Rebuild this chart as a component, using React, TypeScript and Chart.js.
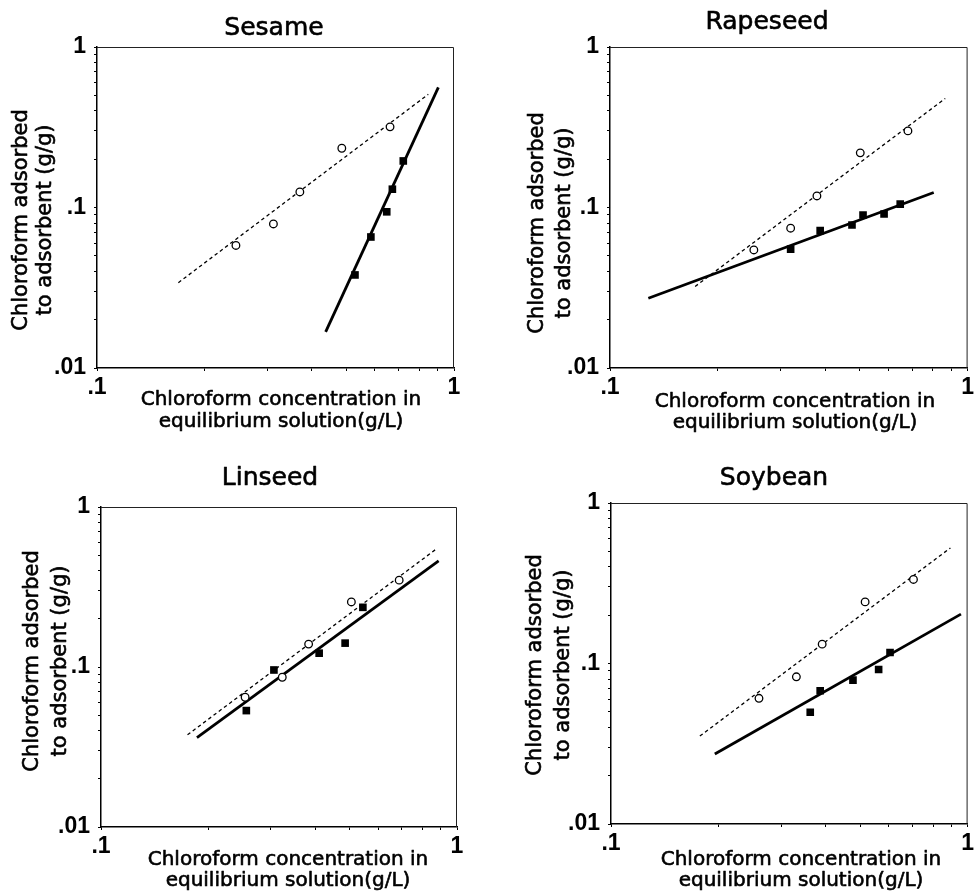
import React, { useEffect, useRef } from 'react';
import { Chart, registerables } from 'chart.js';

Chart.register(...registerables);

// ---------------- data ----------------
// Sesame
const sesameOpenX = [0.245, 0.312, 0.37, 0.485, 0.662];
const sesameOpenY = [0.058, 0.079, 0.125, 0.234, 0.318];
const sesameOpenFitX = [0.169, 0.847];
const sesameOpenFitY = [0.034, 0.507];
const sesameFilledX = [0.528, 0.585, 0.648, 0.672, 0.721];
const sesameFilledY = [0.038, 0.0655, 0.094, 0.13, 0.195];
const sesameFilledFitX = [0.437, 0.904];
const sesameFilledFitY = [0.0168, 0.561];

// Rapeseed
const rapeseedOpenX = [0.2525, 0.32, 0.379, 0.501, 0.681];
const rapeseedOpenY = [0.0544, 0.0743, 0.118, 0.219, 0.3];
const rapeseedOpenFitX = [0.173, 0.866];
const rapeseedOpenFitY = [0.0322, 0.478];
const rapeseedFilledX = [0.32, 0.387, 0.475, 0.51, 0.584, 0.648];
const rapeseedFilledY = [0.055, 0.0717, 0.0778, 0.0898, 0.0911, 0.105];
const rapeseedFilledFitX = [0.128, 0.804];
const rapeseedFilledFitY = [0.0272, 0.124];

// Linseed
const linseedOpenX = [0.254, 0.323, 0.383, 0.505, 0.688];
const linseedOpenY = [0.0647, 0.0863, 0.139, 0.255, 0.349];
const linseedOpenFitX = [0.175, 0.878];
const linseedOpenFitY = [0.0377, 0.55];
const linseedFilledX = [0.256, 0.306, 0.41, 0.485, 0.544];
const linseedFilledY = [0.0534, 0.0958, 0.122, 0.141, 0.236];
const linseedFilledFitX = [0.186, 0.888];
const linseedFilledFitY = [0.0362, 0.46];

// Soybean
const soybeanOpenX = [0.26, 0.331, 0.391, 0.516, 0.705];
const soybeanOpenY = [0.0607, 0.0826, 0.132, 0.242, 0.334];
const soybeanOpenFitX = [0.1775, 0.895];
const soybeanOpenFitY = [0.0353, 0.525];
const soybeanFilledX = [0.362, 0.386, 0.477, 0.563, 0.606];
const soybeanFilledY = [0.0497, 0.0676, 0.0788, 0.0918, 0.117];
const soybeanFilledFitX = [0.1955, 0.958];
const soybeanFilledFitY = [0.0273, 0.203];

// axes
const X_MIN = 0.1;
const X_MAX = 1;
const Y_MIN = 0.01;
const Y_MAX = 1;
const X_TICKS = [0.1, 0.2, 0.3, 0.4, 0.5, 0.6, 0.7, 0.8, 0.9, 1];
const Y_TICKS = [
  0.01, 0.02, 0.03, 0.04, 0.05, 0.06, 0.07, 0.08, 0.09,
  0.1, 0.2, 0.3, 0.4, 0.5, 0.6, 0.7, 0.8, 0.9, 1,
];
const X_LABELLED = [0.1, 1];
const X_LABELS = ['.1', '1'];
const Y_LABELLED = [0.01, 0.1, 1];
const Y_LABELS = ['.01', '.1', '1'];

const X_TITLE = ['Chloroform concentration in', 'equilibrium solution(g/L)'];
const Y_TITLE = ['Chloroform adsorbed', 'to adsorbent (g/g)'];

// ---------------- layout (page coordinates) ----------------
type Panel = {
  title: string;
  openX: number[]; openY: number[];
  openFitX: number[]; openFitY: number[];
  filledX: number[]; filledY: number[];
  filledFitX: number[]; filledFitY: number[];
  canvas: { left: number; top: number; w: number; h: number };
  area: { l: number; r: number; t: number; b: number };
  titlePos: [number, number];
  xTitleX: number; xTitleY: [number, number];
  yTitleX: [number, number]; yTitleY: number;
};

const PANELS: Panel[] = [
  {
    title: 'Sesame',
    openX: sesameOpenX, openY: sesameOpenY,
    openFitX: sesameOpenFitX, openFitY: sesameOpenFitY,
    filledX: sesameFilledX, filledY: sesameFilledY,
    filledFitX: sesameFilledFitX, filledFitY: sesameFilledFitY,
    canvas: { left: 0, top: 0, w: 488, h: 440 },
    area: { l: 97, r: 454, t: 47, b: 368 },
    titlePos: [274, 28],
    xTitleX: 281, xTitleY: [400, 422],
    yTitleX: [22, 46], yTitleY: 220,
  },
  {
    title: 'Rapeseed',
    openX: rapeseedOpenX, openY: rapeseedOpenY,
    openFitX: rapeseedOpenFitX, openFitY: rapeseedOpenFitY,
    filledX: rapeseedFilledX, filledY: rapeseedFilledY,
    filledFitX: rapeseedFilledFitX, filledFitY: rapeseedFilledFitY,
    canvas: { left: 488, top: 0, w: 489, h: 440 },
    area: { l: 610, r: 968, t: 47, b: 368 },
    titlePos: [767, 22],
    xTitleX: 795, xTitleY: [402, 423],
    yTitleX: [538, 565], yTitleY: 223,
  },
  {
    title: 'Linseed',
    openX: linseedOpenX, openY: linseedOpenY,
    openFitX: linseedOpenFitX, openFitY: linseedOpenFitY,
    filledX: linseedFilledX, filledY: linseedFilledY,
    filledFitX: linseedFilledFitX, filledFitY: linseedFilledFitY,
    canvas: { left: 0, top: 440, w: 488, h: 454 },
    area: { l: 101, r: 457, t: 507, b: 827 },
    titlePos: [270, 478],
    xTitleX: 288, xTitleY: [860, 881],
    yTitleX: [33, 61], yTitleY: 661,
  },
  {
    title: 'Soybean',
    openX: soybeanOpenX, openY: soybeanOpenY,
    openFitX: soybeanOpenFitX, openFitY: soybeanOpenFitY,
    filledX: soybeanFilledX, filledY: soybeanFilledY,
    filledFitX: soybeanFilledFitX, filledFitY: soybeanFilledFitY,
    canvas: { left: 488, top: 440, w: 489, h: 454 },
    area: { l: 611, r: 968, t: 503, b: 824 },
    titlePos: [774, 478],
    xTitleX: 801, xTitleY: [860, 881],
    yTitleX: [536, 564], yTitleY: 665,
  },
];

const zip = (xs: number[], ys: number[]) => xs.map((x, i) => ({ x, y: ys[i] }));

const labelFor = (v: number, vals: number[], labels: string[]) => {
  const i = vals.findIndex((t) => Math.abs(t - v) < 1e-9);
  return i >= 0 ? labels[i] : '';
};

const TICK_FONT = { family: '"Liberation Sans", Arial, sans-serif', size: 23, weight: 'bold' as const, lineHeight: 1.2 };

function heavyText(ctx: CanvasRenderingContext2D, t: string, x: number, y: number) {
  ctx.fillText(t, x, y);
  ctx.strokeText(t, x, y);
}

function PanelChart({ p }: { p: Panel }) {
  const ref = useRef<HTMLCanvasElement>(null);

  useEffect(() => {
    if (!ref.current) return;
    const c = p.canvas;
    const a = p.area;
    const yW = a.l - c.left;
    const xH = c.top + c.h - a.b;

    const textPlugin = {
      id: 'panelText' + p.title,
      afterDraw(chart: any) {
        const ctx = chart.ctx as CanvasRenderingContext2D;
        const ca = chart.chartArea;
        ctx.save();
        // top and right frame
        ctx.strokeStyle = '#222';
        ctx.lineWidth = 1;
        ctx.beginPath();
        ctx.moveTo(ca.left, ca.top + 0.5);
        ctx.lineTo(ca.right - 0.5, ca.top + 0.5);
        ctx.lineTo(ca.right - 0.5, ca.bottom);
        ctx.stroke();

        ctx.fillStyle = '#000';
        ctx.strokeStyle = '#000';
        ctx.lineWidth = 0.6;
        ctx.lineJoin = 'round';
        ctx.textAlign = 'center';
        ctx.textBaseline = 'middle';
        ctx.font = '25px "DejaVu Sans"';
        heavyText(ctx, p.title, p.titlePos[0] - c.left, p.titlePos[1] - c.top);

        ctx.font = '20px "DejaVu Sans"';
        X_TITLE.forEach((t, i) => heavyText(ctx, t, p.xTitleX - c.left, p.xTitleY[i] - c.top));

        ctx.font = '21px "DejaVu Sans"';
        Y_TITLE.forEach((t, i) => {
          ctx.save();
          ctx.translate(p.yTitleX[i] - c.left, p.yTitleY - c.top);
          ctx.rotate(-Math.PI / 2);
          heavyText(ctx, t, 0, 0);
          ctx.restore();
        });
        ctx.restore();
      },
    };

    const chart = new Chart(ref.current, {
      type: 'scatter',
      data: {
        datasets: [
          {
            label: 'open',
            data: zip(p.openX, p.openY),
            pointStyle: 'circle',
            pointRadius: 3.8,
            backgroundColor: '#fff',
            borderColor: '#000',
            borderWidth: 1.3,
            showLine: false,
          },
          {
            label: 'filled',
            data: zip(p.filledX, p.filledY),
            pointStyle: 'rect',
            pointRadius: 5.4,
            backgroundColor: '#000',
            borderColor: '#000',
            borderWidth: 0,
            showLine: false,
          },
          {
            label: 'open fit',
            data: zip(p.openFitX, p.openFitY),
            showLine: true,
            pointRadius: 0,
            borderColor: '#000',
            borderWidth: 1.3,
            borderDash: [3.5, 3],
          },
          {
            label: 'filled fit',
            data: zip(p.filledFitX, p.filledFitY),
            showLine: true,
            pointRadius: 0,
            borderColor: '#000',
            borderWidth: 2.8,
          },
        ],
      },
      options: {
        responsive: false,
        animation: false,
        events: [],
        layout: {
          autoPadding: false,
          padding: {
            left: 0,
            top: a.t - c.top,
            right: c.left + c.w - a.r,
            bottom: 0,
          },
        },
        plugins: {
          legend: { display: false },
          tooltip: { enabled: false },
          title: { display: false },
        },
        scales: {
          x: {
            type: 'logarithmic',
            min: X_MIN,
            max: X_MAX,
            afterBuildTicks: (s: any) => {
              s.ticks = X_TICKS.map((v) => ({ value: v }));
            },
            afterFit: (s: any) => {
              s.height = xH;
            },
            ticks: {
              autoSkip: false,
              maxRotation: 0,
              minRotation: 0,
              padding: 3,
              color: '#000',
              font: TICK_FONT,
              callback: (v: any) => labelFor(Number(v), X_LABELLED, X_LABELS),
            },
            grid: {
              drawOnChartArea: false,
              drawTicks: true,
              tickLength: 3,
              color: '#000',
              lineWidth: 1,
            },
            border: { display: true, color: '#000', width: 1.5 },
          },
          y: {
            type: 'logarithmic',
            min: Y_MIN,
            max: Y_MAX,
            afterBuildTicks: (s: any) => {
              s.ticks = Y_TICKS.map((v) => ({ value: v }));
            },
            afterFit: (s: any) => {
              s.width = yW;
            },
            ticks: {
              autoSkip: false,
              padding: 8,
              color: '#000',
              font: TICK_FONT,
              callback: (v: any) => labelFor(Number(v), Y_LABELLED, Y_LABELS),
            },
            grid: {
              drawOnChartArea: false,
              drawTicks: true,
              tickLength: 3,
              color: '#000',
              lineWidth: 1,
            },
            border: { display: true, color: '#000', width: 1.5 },
          },
        },
      },
      plugins: [textPlugin],
    } as any);

    return () => chart.destroy();
  }, [p]);

  return (
    <canvas
      ref={ref}
      width={p.canvas.w}
      height={p.canvas.h}
      style={{
        position: 'absolute',
        display: 'block',
        left: p.canvas.left,
        top: p.canvas.top,
        width: p.canvas.w,
        height: p.canvas.h,
      }}
    />
  );
}

export default function App() {
  return (
    <div
      style={{
        position: 'fixed',
        left: 0,
        top: 0,
        width: 977,
        height: 894,
        overflow: 'hidden',
        background: '#fff',
      }}
    >
      {PANELS.map((p) => (
        <PanelChart key={p.title} p={p} />
      ))}
    </div>
  );
}
